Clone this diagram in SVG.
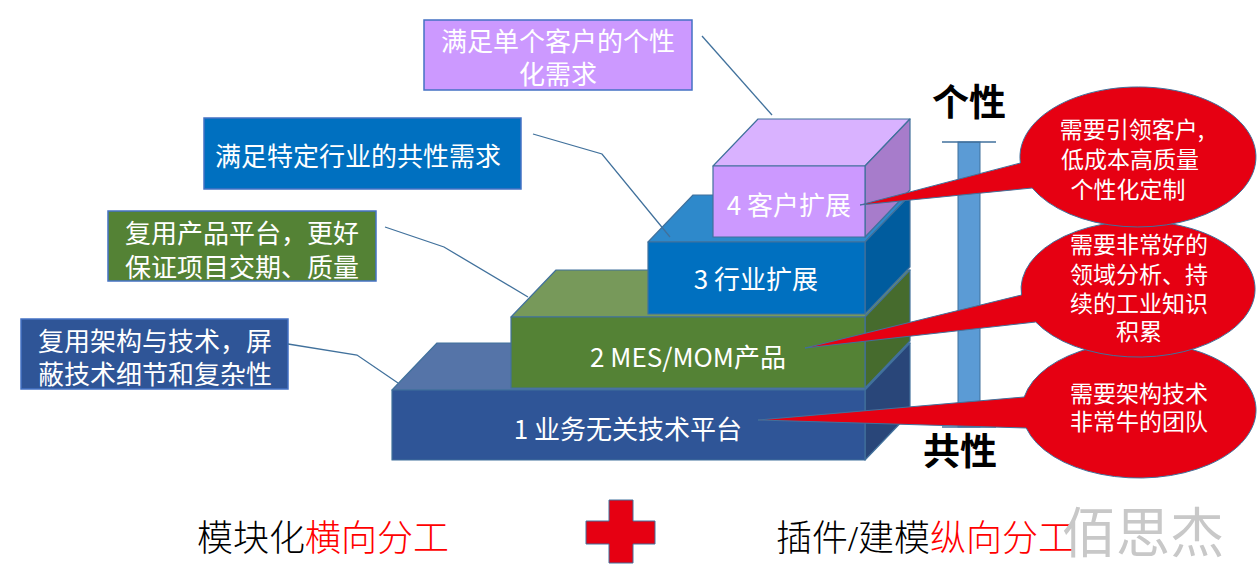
<svg xmlns="http://www.w3.org/2000/svg" width="1258" height="582" viewBox="0 0 1258 582">
<style>
.cjk{font-family:"Noto Sans CJK SC","Noto Sans",sans-serif;}
.lbl{font-family:"Noto Sans CJK SC","Noto Sans",sans-serif;font-size:26px;text-anchor:middle;dominant-baseline:central;fill:#ffffff;}
.etx{font-family:"Noto Sans CJK SC","Noto Sans",sans-serif;font-size:23px;text-anchor:middle;dominant-baseline:central;fill:#ffffff;}
.edge{stroke:#41719C;stroke-width:1.2;stroke-linejoin:round;}
.lead{fill:none;stroke:#41719C;stroke-width:1.3;}
.red{fill:#E60012;stroke:#41719C;stroke-width:1;stroke-linejoin:round;}
.srf{font-family:"Liberation Serif","Noto Sans CJK SC",serif;font-size:36px;font-weight:300;dominant-baseline:central;fill:#000000;}
.big{font-family:"Noto Sans CJK SC",sans-serif;font-size:37px;font-weight:700;text-anchor:middle;dominant-baseline:central;fill:#000000;}
</style>
<rect x="0" y="0" width="1258" height="582" fill="#ffffff"/>

<g id="box1">
<polygon class="edge" points="392,390 437,343 910,343 865,390" fill="#5574A8"/>
<polygon class="edge" points="865,390 910,343 910,413 865,460" fill="#294679"/>
<rect class="edge" x="392" y="390" width="473" height="70" fill="#2F5597"/>
<text class="lbl" x="628" y="427">1 业务无关技术平台</text>
</g>
<g id="box2">
<polygon class="edge" points="511,317 556,270 910,270 865,317" fill="#77995A"/>
<polygon class="edge" points="865,317 910,270 910,341 865,388" fill="#466B2D"/>
<rect class="edge" x="511" y="317" width="354" height="71" fill="#548235"/>
<text class="lbl" x="688" y="355">2 MES/MOM产品</text>
</g>
<g id="box3">
<polygon class="edge" points="648,242 693,195 910,195 865,242" fill="#2E89CB"/>
<polygon class="edge" points="865,242 910,195 910,267 865,314" fill="#005C9E"/>
<rect class="edge" x="648" y="242" width="217" height="72" fill="#0070C0"/>
<text class="lbl" x="756" y="277">3 行业扩展</text>
</g>
<g id="box4">
<polygon class="edge" points="713,166 758,119 910,119 865,166" fill="#D9B2FF"/>
<polygon class="edge" points="865,166 910,119 910,190 865,237" fill="#A77CCB"/>
<rect class="edge" x="713" y="166" width="152" height="71" fill="#CC99FF"/>
<text class="lbl" x="789" y="203">4 客户扩展</text>
</g>

<g id="label-customer">
<rect x="424" y="20" width="268" height="70" fill="#CC99FF" stroke="#4472C4" stroke-width="1.5"/>
<text class="lbl" x="558" y="39">满足单个客户的个性</text>
<text class="lbl" x="558" y="72">化需求</text>
</g>
<g id="label-industry">
<rect x="204" y="118" width="317" height="71" fill="#0070C0" stroke="#4472C4" stroke-width="1.5"/>
<text class="lbl" x="358" y="154">满足特定行业的共性需求</text>
</g>
<g id="label-product">
<rect x="108" y="211" width="268" height="70" fill="#548235" stroke="#4472C4" stroke-width="1.5"/>
<text class="lbl" x="242" y="231">复用产品平台，更好</text>
<text class="lbl" x="242" y="265">保证项目交期、质量</text>
</g>
<g id="label-platform">
<rect x="21" y="319" width="267" height="70" fill="#2F5597" stroke="#4472C4" stroke-width="1.5"/>
<text class="lbl" x="155" y="339">复用架构与技术，屏</text>
<text class="lbl" x="155" y="372">蔽技术细节和复杂性</text>
</g>

<g id="connectors">
<polyline class="lead" points="702,36 772,115"/>
<polyline class="lead" points="533,134 602,154 670,237"/>
<polyline class="lead" points="385,227 444,247 528,297"/>
<polyline class="lead" points="288,344 357,355 398,383"/>
</g>

<g id="scale-bar">
<rect x="958" y="142" width="22" height="285" fill="#5B9BD5" stroke="#41719C" stroke-width="1"/>
<line x1="942" y1="142" x2="996" y2="142" stroke="#41719C" stroke-width="1.5"/>
<line x1="942" y1="427" x2="996" y2="427" stroke="#41719C" stroke-width="1.5"/>
<text class="big" x="969" y="100">个性</text>
<text class="big" x="960" y="449">共性</text>
</g>

<g id="callout3">
<path class="red" d="M1024.2,397 L758,420 L1026.2,428 A117,68 0 1 0 1024.2,397 Z"/>
<text class="etx" x="1139" y="392">需要架构技术</text>
<text class="etx" x="1139" y="420">非常牛的团队</text>
</g>
<g id="callout2">
<path class="red" d="M1021.5,295 L805,348 L1035.7,322 A117,68 0 1 0 1021.5,295 Z"/>
<text class="etx" x="1139" y="243">需要非常好的</text>
<text class="etx" x="1139" y="273">领域分析、持</text>
<text class="etx" x="1139" y="302">续的工业知识</text>
<text class="etx" x="1139" y="330">积累</text>
</g>
<g id="callout1">
<path class="red" d="M1020.4,163 L860,205 L1032.2,188 A118,70 0 1 0 1020.4,163 Z"/>
<text class="etx" x="1132" y="128">需要引领客户,</text>
<text class="etx" x="1130" y="158">低成本高质量</text>
<text class="etx" x="1128" y="188">个性化定制</text>
</g>

<g id="bottom">
<text class="srf" x="197" y="539">模块化<tspan fill="#FF0000">横向分工</tspan></text>
<path class="red" d="M609,500 H633 V521 H655 V544 H633 V563 H609 V544 H586 V521 H609 Z"/>
<text class="srf" x="776" y="539">插件/建模<tspan fill="#FF0000">纵向分工</tspan></text>
<text x="1143" y="529" font-family="Noto Sans CJK SC,sans-serif" font-size="54" fill="#C8C8C8" text-anchor="middle" dominant-baseline="central">佰思杰</text>
</g>
</svg>
